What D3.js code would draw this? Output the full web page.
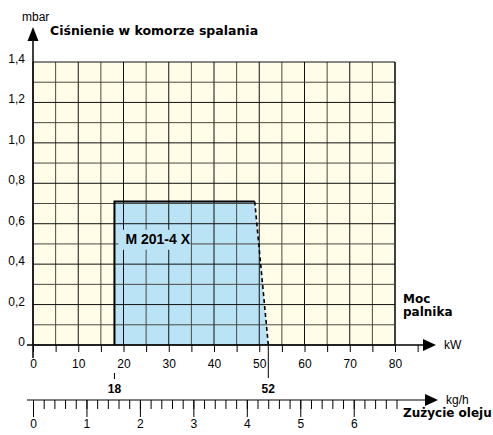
<!DOCTYPE html>
<html>
<head>
<meta charset="utf-8">
<script src="https://cdn.jsdelivr.net/npm/d3@7"></script>
<style>
  body { margin: 0; background: #fff; }
  svg text { font-family: "Liberation Sans Narrow", "Liberation Sans", Arial, sans-serif; }
  .bold { font-family: "DejaVu Sans", sans-serif !important; font-weight: bold; }
</style>
</head>
<body>
<div id="container"></div>
<script>
// Data
const pressureTicks = [0, 0.2, 0.4, 0.6, 0.8, 1.0, 1.2, 1.4];
const pressureLabels = ["0", "0,2", "0,4", "0,6", "0,8", "1,0", "1,2", "1,4"];
const powerTicks = [0, 10, 20, 30, 40, 50, 60, 70, 80];
const oilTicks = [0, 1, 2, 3, 4, 5, 6];
const markedPower = [18, 52];
const burnerName = "M 201-4 X";
// working field: power (kW) and pressure (mbar)
const fieldPower = [18, 18, 49, 52];
const fieldPressure = [0, 0.71, 0.71, 0];

const width = 493;
const height = 435;

const x = d3.scaleLinear().domain([0, 80]).range([33, 395]);
const y = d3.scaleLinear().domain([0, 1.4]).range([345, 62]);
const oil = d3.scaleLinear().domain([0, 6.8]).range([33, 396.5]);

const svg = d3.create("svg")
    .attr("width", width)
    .attr("height", height);

// plot background
svg.append("rect")
    .attr("x", x(0)).attr("y", y(1.4))
    .attr("width", x(80) - x(0)).attr("height", y(0) - y(1.4))
    .attr("fill", "#fffce8");

// working field
const pts = fieldPower.map((p, i) => [x(p), y(fieldPressure[i])]);
svg.append("path")
    .attr("d", d3.line()(pts) + "Z")
    .attr("fill", "#bbe3f6");

// grid
const vLines = d3.range(0, 17).map(i => i * 5);
const hLines = d3.range(0, 15).map(i => i / 10);
svg.append("g").selectAll("line").data(vLines).join("line")
    .attr("x1", d => x(d)).attr("x2", d => x(d))
    .attr("y1", y(0)).attr("y2", y(1.4))
    .attr("stroke", d => d % 10 === 0 ? "#111" : "#4a4a40")
    .attr("stroke-width", d => d === 80 ? 1.6 : 1);
svg.append("g").selectAll("line").data(hLines).join("line")
    .attr("x1", x(0)).attr("x2", x(80))
    .attr("y1", d => y(d)).attr("y2", d => y(d))
    .attr("stroke", (d, i) => i % 2 === 0 ? "#111" : "#4a4a40")
    .attr("stroke-width", 1);

// field outline
svg.append("path")
    .attr("d", d3.line()(pts.slice(0, 3)))
    .attr("fill", "none").attr("stroke", "#000").attr("stroke-width", 2);
svg.append("path")
    .attr("d", d3.line()(pts.slice(2, 4)))
    .attr("fill", "none").attr("stroke", "#000").attr("stroke-width", 1.6)
    .attr("stroke-dasharray", "4,3");

// burner label
svg.append("rect")
    .attr("x", x(18) + 4).attr("y", y(0.57))
    .attr("width", 72).attr("height", 20)
    .attr("fill", "#bbe3f6");
svg.append("text")
    .attr("x", x(18) + 11).attr("y", y(0.5))
    .attr("font-size", 14).attr("font-weight", "bold")
    .text(burnerName);

// y axis
svg.append("line")
    .attr("x1", x(0)).attr("x2", x(0))
    .attr("y1", 358).attr("y2", 38)
    .attr("stroke", "#000").attr("stroke-width", 1.5);
svg.append("path")
    .attr("d", `M${x(0)},27 L${x(0) - 5.5},41 L${x(0) + 5.5},41 Z`)
    .attr("fill", "#000");
svg.append("g").selectAll("text").data(pressureTicks).join("text")
    .attr("x", 25).attr("y", d => y(d) + 1)
    .attr("text-anchor", "end")
    .attr("font-size", 12)
    .text((d, i) => pressureLabels[i]);

// power axis
svg.append("line")
    .attr("x1", 27).attr("x2", 425)
    .attr("y1", y(0)).attr("y2", y(0))
    .attr("stroke", "#000").attr("stroke-width", 1.5);
svg.append("path")
    .attr("d", `M436,${y(0)} L423,${y(0) - 6} L423,${y(0) + 6} Z`)
    .attr("fill", "#000");
svg.append("g")
    .attr("transform", `translate(0,${y(0)})`)
    .call(d3.axisBottom(x).tickValues(d3.range(0, 18).map(i => i * 5)).tickSize(7).tickFormat(""))
    .call(g => g.select(".domain").remove());
svg.append("g")
    .attr("transform", `translate(0,${y(0)})`)
    .call(d3.axisBottom(x).tickValues(powerTicks).tickSize(0).tickPadding(14).tickFormat(d => d))
    .call(g => g.select(".domain").remove())
    .call(g => g.selectAll("text").attr("font-size", 12).attr("font-family", null));

// marked power limits
svg.append("line")
    .attr("x1", x(markedPower[1])).attr("x2", x(markedPower[1]))
    .attr("y1", y(0)).attr("y2", 378)
    .attr("stroke", "#000");
svg.append("line")
    .attr("x1", x(markedPower[0])).attr("x2", x(markedPower[0]))
    .attr("y1", 373).attr("y2", 379)
    .attr("stroke", "#000");
svg.append("g").selectAll("text").data(markedPower).join("text")
    .attr("x", d => x(d)).attr("y", 393)
    .attr("text-anchor", "middle")
    .attr("font-size", 12).attr("font-weight", "bold")
    .text(d => d);

// oil axis
svg.append("line")
    .attr("x1", 27).attr("x2", 427)
    .attr("y1", 400).attr("y2", 400)
    .attr("stroke", "#000").attr("stroke-width", 1.2);
svg.append("path")
    .attr("d", "M438,400 L425,394 L425,406 Z")
    .attr("fill", "#000");
svg.append("g")
    .attr("transform", "translate(0,400)")
    .call(d3.axisBottom(oil).tickValues(d3.range(0, 35).map(i => i / 5)).tickSize(9).tickFormat(""))
    .call(g => g.select(".domain").remove());
svg.append("g")
    .attr("transform", "translate(0,400)")
    .call(d3.axisBottom(oil).tickValues(oilTicks).tickSize(17).tickPadding(2).tickFormat(d => d))
    .call(g => g.select(".domain").remove())
    .call(g => g.selectAll("text").attr("font-size", 12).attr("font-family", null));

// titles
svg.append("text").attr("x", 22).attr("y", 21).attr("font-size", 12).text("mbar");
svg.append("text").attr("class", "bold").attr("x", 50).attr("y", 35)
    .attr("font-size", 12.5).text("Ciśnienie w komorze spalania");
svg.append("text").attr("x", 444).attr("y", 349).attr("font-size", 12).text("kW");
svg.append("text").attr("x", 446).attr("y", 404).attr("font-size", 12).text("kg/h");
svg.append("text").attr("class", "bold").attr("x", 403).attr("y", 303)
    .attr("font-size", 12).text("Moc");
svg.append("text").attr("class", "bold").attr("x", 403).attr("y", 316)
    .attr("font-size", 12).text("palnika");
svg.append("text").attr("class", "bold").attr("x", 403).attr("y", 417)
    .attr("font-size", 12).text("Zużycie oleju");

document.getElementById("container").append(svg.node());
</script>
</body>
</html>
